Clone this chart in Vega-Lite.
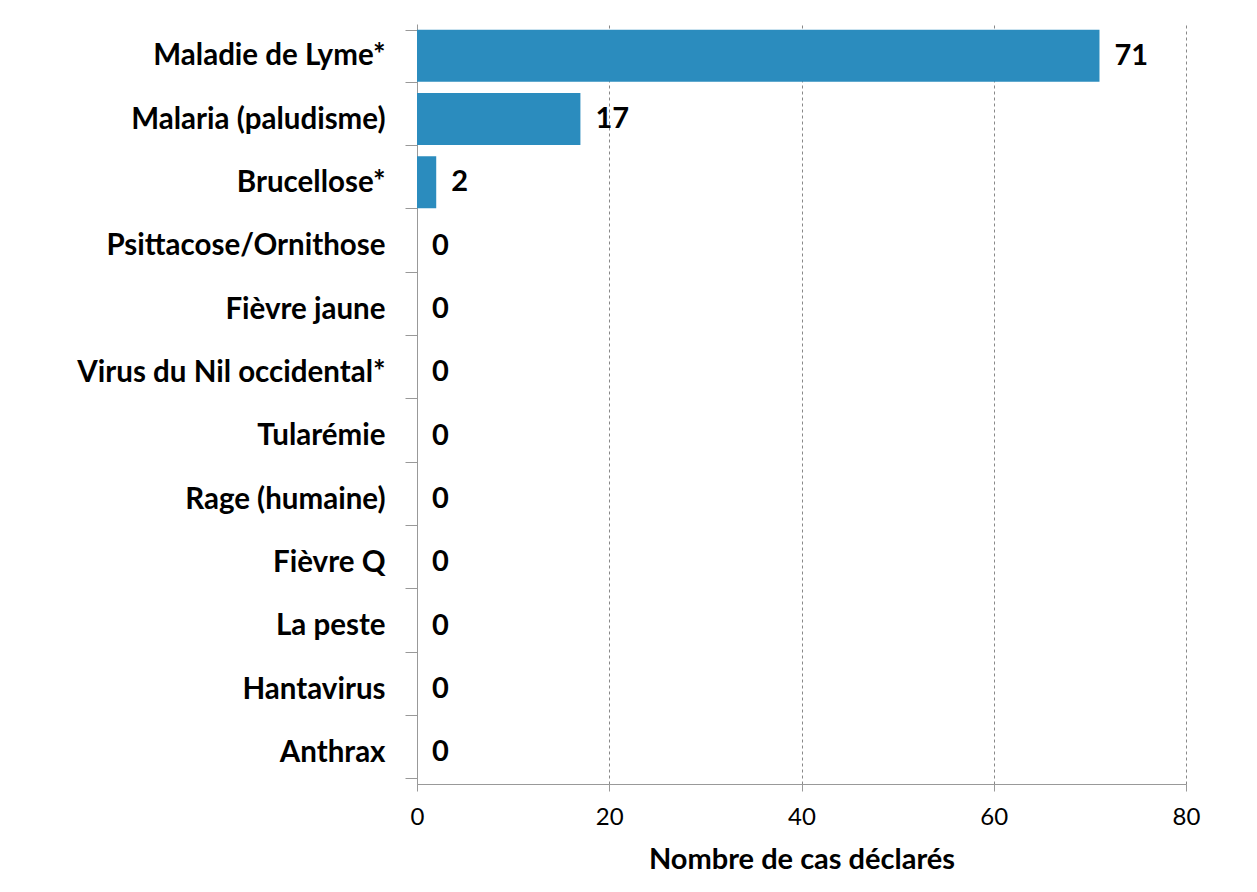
{
  "$schema": "https://vega.github.io/schema/vega-lite/v6.json",
  "width": 769,
  "height": 760,
  "autosize": {"type": "none"},
  "padding": {"left": 417, "top": 24, "right": 71, "bottom": 108},
  "background": "#ffffff",
  "data": {
    "values": [
      {"maladie": "Maladie de Lyme*", "cas": 71},
      {"maladie": "Malaria (paludisme)", "cas": 17},
      {"maladie": "Brucellose*", "cas": 2},
      {"maladie": "Psittacose/Ornithose", "cas": 0},
      {"maladie": "Fièvre jaune", "cas": 0},
      {"maladie": "Virus du Nil occidental*", "cas": 0},
      {"maladie": "Tularémie", "cas": 0},
      {"maladie": "Rage (humaine)", "cas": 0},
      {"maladie": "Fièvre Q", "cas": 0},
      {"maladie": "La peste", "cas": 0},
      {"maladie": "Hantavirus", "cas": 0},
      {"maladie": "Anthrax", "cas": 0}
    ]
  },
  "encoding": {
    "y": {
      "field": "maladie",
      "type": "nominal",
      "sort": null,
      "scale": {"paddingInner": 0.18, "paddingOuter": 0.09},
      "axis": {
        "title": null,
        "tickBand": "extent",
        "tickSize": 12,
        "tickColor": "#999999",
        "domainColor": "#999999",
        "labelPadding": 20,
        "labelLimit": 500,
        "labelFont": "Lato",
        "labelFontWeight": "bold",
        "labelFontSize": 29.5,
        "labelColor": "#000000",
        "grid": false
      }
    },
    "x": {
      "field": "cas",
      "type": "quantitative",
      "scale": {"domain": [0, 80], "nice": false},
      "axis": {
        "title": "Nombre de cas déclarés",
        "values": [0, 20, 40, 60, 80],
        "tickSize": 7,
        "tickColor": "#999999",
        "domainColor": "#999999",
        "grid": true,
        "gridColor": "#888888",
        "gridDash": [3, 3],
        "gridWidth": 1,
        "labelFlush": false,
        "labelFont": "Lato",
        "labelFontSize": 24,
        "labelColor": "#000000",
        "labelPadding": 14,
        "titleFont": "Lato",
        "titleFontWeight": "bold",
        "titleFontSize": 29,
        "titleColor": "#000000",
        "titlePadding": 16
      }
    }
  },
  "layer": [
    {
      "mark": {"type": "bar", "color": "#2B8CBE"}
    },
    {
      "mark": {"type": "text", "align": "left", "baseline": "middle", "dx": 15, "font": "Lato", "fontWeight": "bold", "fontSize": 29, "color": "#000000"},
      "encoding": {"text": {"field": "cas", "type": "quantitative"}}
    }
  ],
  "config": {"view": {"stroke": null}}
}
